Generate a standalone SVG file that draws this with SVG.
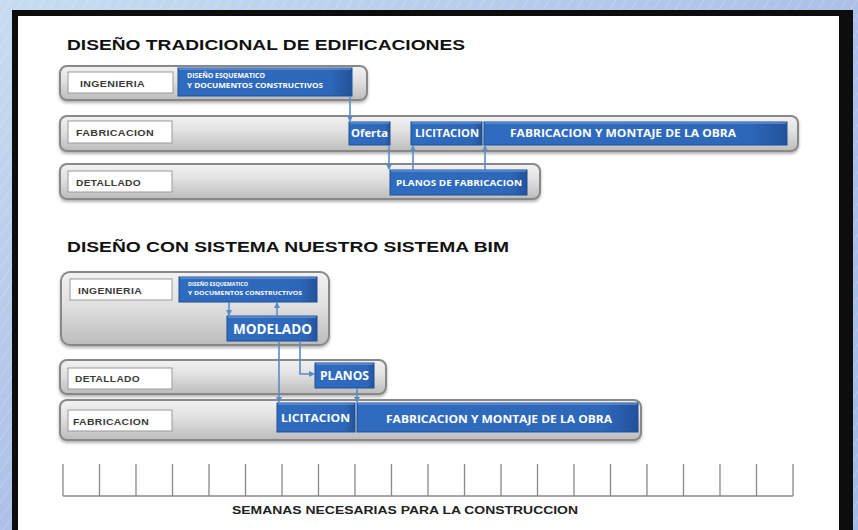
<svg xmlns="http://www.w3.org/2000/svg" width="858" height="530" viewBox="0 0 858 530">
  <defs>
    <linearGradient id="bg" x1="0" y1="0" x2="1" y2="1">
      <stop offset="0" stop-color="#c8dcf0"/>
      <stop offset="0.5" stop-color="#adc0e8"/>
      <stop offset="1" stop-color="#a2bbe4"/>
    </linearGradient>
    <linearGradient id="bar" x1="0" y1="0" x2="0" y2="1">
      <stop offset="0" stop-color="#f2f2f2"/>
      <stop offset="0.45" stop-color="#e0e0e0"/>
      <stop offset="1" stop-color="#bcbcbc"/>
    </linearGradient>
    <linearGradient id="blue" x1="0" y1="0" x2="1" y2="0">
      <stop offset="0" stop-color="#2f6cc0"/>
      <stop offset="0.88" stop-color="#2d67b9"/>
      <stop offset="1" stop-color="#22529a"/>
    </linearGradient>
    <filter id="sh" x="-5%" y="-20%" width="110%" height="150%">
      <feDropShadow dx="0" dy="2" stdDeviation="1.5" flood-color="#000" flood-opacity="0.3"/>
    </filter>
    <marker id="ah" viewBox="0 0 6 6" refX="5" refY="3" markerWidth="6" markerHeight="6" orient="auto" markerUnits="userSpaceOnUse">
      <path d="M0,0 L6,3 L0,6 z" fill="#5a8bc9"/>
    </marker>
    <pattern id="swirl" width="9" height="9" patternUnits="userSpaceOnUse" patternTransform="rotate(35)">
      <line x1="0" y1="0" x2="0" y2="9" stroke="#ffffff" stroke-opacity="0.3" stroke-width="1.2"/>
    </pattern>
  </defs>
  <style>
    .lane { fill: url(#bar); stroke: #888888; stroke-width: 2; filter: url(#sh); }
    .lbl { fill: #ffffff; stroke: #9a9a9a; stroke-width: 1; }
    .lbltxt { font-family: "Liberation Sans", Arial, sans-serif; font-weight: bold; font-size: 9px; fill: #3a3a3a; letter-spacing: 0.3px; }
    .box { fill: url(#blue); stroke: #1f4f94; stroke-width: 1; }
    .hl { stroke: #7ea6de; stroke-width: 1; }
    .bt { font-family: "Open Sans", "Liberation Sans", sans-serif; font-weight: bold; fill: #ffffff; }
    .title { font-family: "Liberation Sans", Arial, sans-serif; font-weight: bold; font-size: 15.5px; fill: #111111; }
    .con { fill: none; stroke: #5a8bc9; stroke-width: 1.6; marker-end: url(#ah); }
    .tick { stroke: #888888; stroke-width: 1.3; }
  </style>

  <!-- background and frame -->
  <rect x="0" y="0" width="858" height="530" fill="url(#bg)"/>
  <rect x="0" y="0" width="858" height="530" fill="url(#swirl)"/>
  <rect x="12" y="10" width="841" height="530" fill="#0d0d0d"/>
  <rect x="18" y="16" width="821" height="520" fill="#ffffff"/>

  <!-- titles -->
  <text class="title" x="67" y="50" textLength="398" lengthAdjust="spacingAndGlyphs">DISEÑO TRADICIONAL DE EDIFICACIONES</text>
  <text class="title" x="67" y="252" textLength="442" lengthAdjust="spacingAndGlyphs">DISEÑO CON SISTEMA NUESTRO SISTEMA BIM</text>

  <!-- ===== Section 1: traditional ===== -->
  <g id="t-ingenieria">
    <rect class="lane" x="60" y="66" width="307" height="34" rx="7"/>
    <rect class="lbl" x="68" y="72" width="105" height="21"/>
    <text class="lbltxt" x="80" y="87" textLength="65" lengthAdjust="spacingAndGlyphs">INGENIERIA</text>
  </g>
  <g id="t-fabricacion">
    <rect class="lane" x="60" y="116" width="738" height="35" rx="7"/>
    <rect class="lbl" x="68" y="121" width="104" height="22"/>
    <text class="lbltxt" x="76" y="136" textLength="78" lengthAdjust="spacingAndGlyphs">FABRICACION</text>
  </g>
  <g id="t-detallado">
    <rect class="lane" x="60" y="164" width="480" height="35" rx="7"/>
    <rect class="lbl" x="68" y="171" width="104" height="21"/>
    <text class="lbltxt" x="76" y="186" textLength="65" lengthAdjust="spacingAndGlyphs">DETALLADO</text>
  </g>

  <g id="t-esquematico">
    <rect class="box" x="178" y="68" width="174" height="28"/>
    <line class="hl" x1="179" y1="69" x2="351" y2="69"/>
    <text class="bt" font-size="7" x="187" y="78" textLength="78" lengthAdjust="spacingAndGlyphs">DISEÑO ESQUEMATICO</text>
    <text class="bt" font-size="7" x="187" y="88" textLength="136" lengthAdjust="spacingAndGlyphs">Y DOCUMENTOS CONSTRUCTIVOS</text>
  </g>
  <g id="t-oferta">
    <rect class="box" x="349" y="122" width="41" height="23"/>
    <line class="hl" x1="350" y1="123" x2="389" y2="123"/>
    <text class="bt" font-size="10.5" x="351" y="137" textLength="37" lengthAdjust="spacingAndGlyphs">Oferta</text>
  </g>
  <g id="t-licitacion">
    <rect class="box" x="411" y="122" width="71" height="23"/>
    <line class="hl" x1="412" y1="123" x2="481" y2="123"/>
    <text class="bt" font-size="10.5" x="415" y="137" textLength="64" lengthAdjust="spacingAndGlyphs">LICITACION</text>
  </g>
  <g id="t-montaje">
    <rect class="box" x="484" y="122" width="303" height="23"/>
    <line class="hl" x1="485" y1="123" x2="786" y2="123"/>
    <text class="bt" font-size="10.5" x="510" y="137" textLength="226" lengthAdjust="spacingAndGlyphs">FABRICACION Y MONTAJE DE LA OBRA</text>
  </g>
  <g id="t-planos">
    <rect class="box" x="390" y="170" width="137" height="25"/>
    <line class="hl" x1="391" y1="171" x2="526" y2="171"/>
    <text class="bt" font-size="9" x="396" y="186" textLength="126" lengthAdjust="spacingAndGlyphs">PLANOS DE FABRICACION</text>
  </g>

  <!-- ===== Section 2: BIM ===== -->
  <g id="b-ingenieria">
    <rect class="lane" x="61" y="272" width="268" height="73" rx="9"/>
    <rect class="lbl" x="70" y="279" width="102" height="21"/>
    <text class="lbltxt" x="78" y="294" textLength="64" lengthAdjust="spacingAndGlyphs">INGENIERIA</text>
  </g>
  <g id="b-detallado">
    <rect class="lane" x="60" y="360" width="326" height="34" rx="7"/>
    <rect class="lbl" x="68" y="368" width="104" height="21"/>
    <text class="lbltxt" x="75" y="382" textLength="65" lengthAdjust="spacingAndGlyphs">DETALLADO</text>
  </g>
  <g id="b-fabricacion">
    <rect class="lane" x="60" y="400" width="581" height="40" rx="7"/>
    <rect class="lbl" x="68" y="410" width="104" height="21"/>
    <text class="lbltxt" x="73" y="425" textLength="76" lengthAdjust="spacingAndGlyphs">FABRICACION</text>
  </g>

  <g id="b-esquematico">
    <rect class="box" x="179" y="277" width="138" height="25"/>
    <line class="hl" x1="180" y1="278" x2="316" y2="278"/>
    <text class="bt" font-size="6" x="188" y="286" textLength="60" lengthAdjust="spacingAndGlyphs">DISEÑO ESQUEMATICO</text>
    <text class="bt" font-size="6" x="188" y="295" textLength="114" lengthAdjust="spacingAndGlyphs">Y DOCUMENTOS CONSTRUCTIVOS</text>
  </g>
  <g id="b-modelado">
    <rect class="box" x="227" y="316" width="90" height="25"/>
    <line class="hl" x1="228" y1="317" x2="316" y2="317"/>
    <text class="bt" font-size="14" x="233" y="334" textLength="79" lengthAdjust="spacingAndGlyphs">MODELADO</text>
  </g>
  <g id="b-planos">
    <rect class="box" x="315" y="363" width="59" height="25"/>
    <line class="hl" x1="316" y1="364" x2="373" y2="364"/>
    <text class="bt" font-size="11.5" x="320" y="380" textLength="49" lengthAdjust="spacingAndGlyphs">PLANOS</text>
  </g>
  <g id="b-licitacion">
    <rect class="box" x="277" y="403" width="78" height="29"/>
    <line class="hl" x1="278" y1="404" x2="354" y2="404"/>
    <text class="bt" font-size="11" x="281" y="422" textLength="69" lengthAdjust="spacingAndGlyphs">LICITACION</text>
  </g>
  <g id="b-montaje">
    <rect class="box" x="357" y="403" width="281" height="29"/>
    <line class="hl" x1="358" y1="404" x2="637" y2="404"/>
    <text class="bt" font-size="10.5" x="386" y="423" textLength="226" lengthAdjust="spacingAndGlyphs">FABRICACION Y MONTAJE DE LA OBRA</text>
  </g>

  <!-- connectors -->
  <g id="connectors">
    <path class="con" d="M350,96 L350,121"/>
    <path class="con" d="M389,145 L389,169"/>
    <path class="con" d="M413,170 L413,146"/>
    <path class="con" d="M485,170 L485,146"/>
    <path class="con" d="M229,302 L229,315"/>
    <path class="con" d="M277,316 L277,303"/>
    <path class="con" d="M279,341 L279,402"/>
    <path class="con" d="M300,341 L300,374 L314,374"/>
    <path class="con" d="M357,388 L357,402"/>
  </g>

  <!-- time axis -->
  <g id="axis">
    <line class="tick" x1="63" y1="496" x2="793" y2="496"/>
    <g class="tick">
      <line x1="63" y1="464" x2="63" y2="496"/>
      <line x1="99.5" y1="464" x2="99.5" y2="496"/>
      <line x1="136" y1="464" x2="136" y2="496"/>
      <line x1="172.5" y1="464" x2="172.5" y2="496"/>
      <line x1="209" y1="464" x2="209" y2="496"/>
      <line x1="245.5" y1="464" x2="245.5" y2="496"/>
      <line x1="282" y1="464" x2="282" y2="496"/>
      <line x1="318.5" y1="464" x2="318.5" y2="496"/>
      <line x1="355" y1="464" x2="355" y2="496"/>
      <line x1="391.5" y1="464" x2="391.5" y2="496"/>
      <line x1="428" y1="464" x2="428" y2="496"/>
      <line x1="464.5" y1="464" x2="464.5" y2="496"/>
      <line x1="501" y1="464" x2="501" y2="496"/>
      <line x1="537.5" y1="464" x2="537.5" y2="496"/>
      <line x1="574" y1="464" x2="574" y2="496"/>
      <line x1="610.5" y1="464" x2="610.5" y2="496"/>
      <line x1="647" y1="464" x2="647" y2="496"/>
      <line x1="683.5" y1="464" x2="683.5" y2="496"/>
      <line x1="720" y1="464" x2="720" y2="496"/>
      <line x1="756.5" y1="464" x2="756.5" y2="496"/>
      <line x1="793" y1="464" x2="793" y2="496"/>
    </g>
    <text x="232" y="514" font-family="Liberation Sans, Arial, sans-serif" font-weight="bold" font-size="10" fill="#222" textLength="346" lengthAdjust="spacingAndGlyphs">SEMANAS NECESARIAS PARA LA CONSTRUCCION</text>
  </g>
</svg>
